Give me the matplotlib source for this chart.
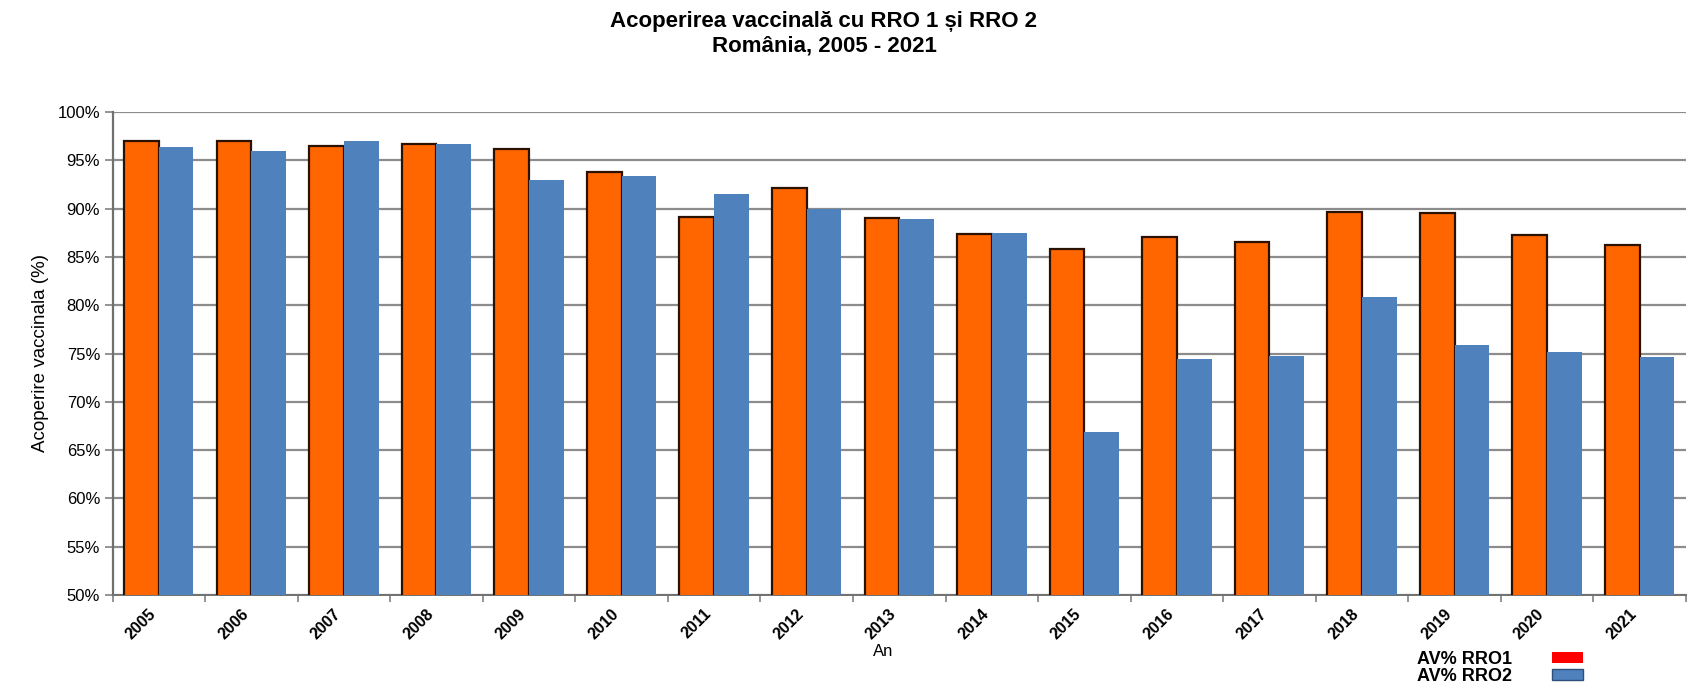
import numpy as np
import matplotlib
matplotlib.use("Agg")
import matplotlib.pyplot as plt
from matplotlib.patches import Patch
from matplotlib.ticker import PercentFormatter

# date
years = ["2005", "2006", "2007", "2008", "2009", "2010", "2011", "2012", "2013",
         "2014", "2015", "2016", "2017", "2018", "2019", "2020", "2021"]
rro1 = [97.0, 97.0, 96.5, 96.7, 96.2, 93.8, 89.1, 92.1, 89.0,
        87.4, 85.8, 87.1, 86.5, 89.6, 89.5, 87.3, 86.2]
rro2 = [96.4, 96.0, 97.0, 96.7, 93.0, 93.4, 91.5, 90.0, 88.9,
        87.5, 66.9, 74.4, 74.7, 80.8, 75.9, 75.2, 74.6]
legend_labels = ["AV% RRO1", "AV% RRO2"]

plt.rcParams["font.family"] = ["Liberation Sans", "DejaVu Sans"]

fig = plt.figure(figsize=(16.96, 6.89), dpi=100)
ax = fig.add_axes([112.5 / 1696, 1 - 595 / 689, (1686 - 112.5) / 1696, (595 - 112) / 689])

x = np.arange(len(years))
w = 0.375
ax.bar(x - w / 2, rro1, width=w, color="#FF6600", edgecolor="#2b1200", linewidth=1.6, zorder=3)
ax.bar(x + w / 2, rro2, width=w, color="#4F81BD", edgecolor="none", zorder=3)

ax.set_ylim(50, 100)
ax.set_xlim(-0.5, len(years) - 0.5)
ax.set_yticks(np.arange(50, 101, 5))
ax.yaxis.set_major_formatter(PercentFormatter(decimals=0))
ax.grid(axis="y", color="#8c8c8c", linewidth=1.6, zorder=0)

# etichete centrate, tick-uri intre categorii
ax.set_xticks(x)
ax.set_xticklabels(years, rotation=45, ha="right", fontsize=11.5, fontweight="bold")
ax.tick_params(axis="x", which="major", length=0, pad=8)
ax.set_xticks(np.arange(-0.5, len(years), 1), minor=True)
ax.tick_params(axis="x", which="minor", length=5, color="#808080", width=1.2)
ax.tick_params(axis="y", length=6, color="#808080", width=1.2, labelsize=12, pad=3)

for s in ["top", "right"]:
    ax.spines[s].set_visible(False)
ax.spines["left"].set_color("#707070")
ax.spines["left"].set_linewidth(1.6)
ax.spines["bottom"].set_color("#707070")
ax.spines["bottom"].set_linewidth(1.4)

ax.set_ylabel("Acoperire vaccinala (%)", fontsize=13.5, labelpad=6)

fig.text(883 / 1696, 1 - 651 / 689, "An", ha="center", va="center", fontsize=12)

fig.text(824 / 1696, 1 - 22 / 689, "Acoperirea vaccinală cu RRO 1 și RRO 2",
         ha="center", va="center", fontsize=16, fontweight="bold")
fig.text(824 / 1696, 1 - 46 / 689, "România, 2005 - 2021",
         ha="center", va="center", fontsize=16, fontweight="bold")

handles = [Patch(facecolor="#FF0000", edgecolor="none"),
           Patch(facecolor="#4F81BD", edgecolor="#2f4f7a")]
fig.legend(handles, legend_labels, loc="center", bbox_to_anchor=(1500 / 1696, 1 - 668 / 689),
           frameon=False, markerfirst=False, prop={"weight": "bold", "size": 13},
           handlelength=1.7, handleheight=0.5, labelspacing=0.0, handletextpad=2.2)

fig.savefig("out.png", dpi=100)
